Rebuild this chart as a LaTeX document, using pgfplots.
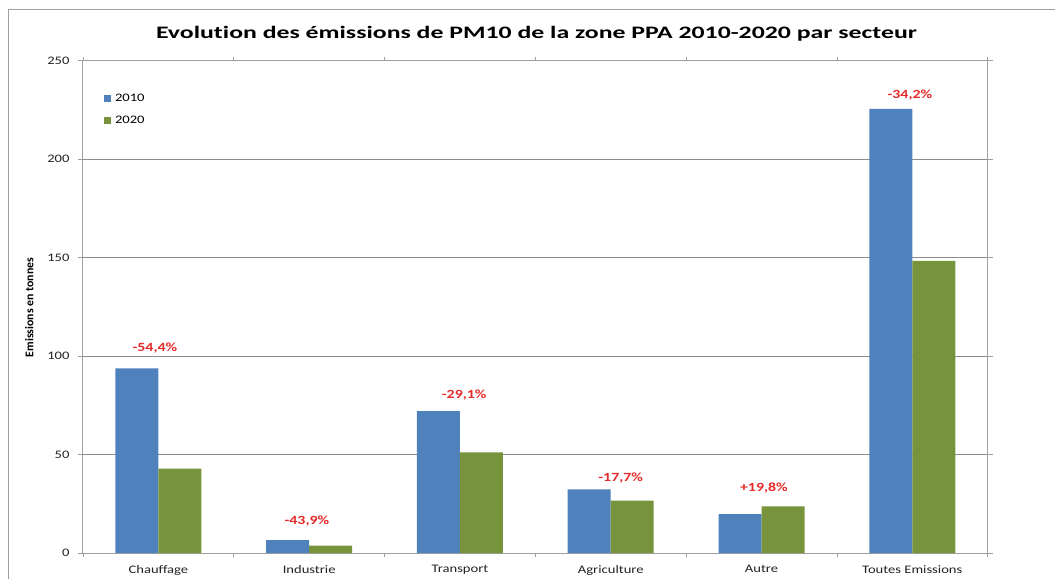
\documentclass[border=0pt]{standalone}
\usepackage{pgfplots}
\pgfplotsset{compat=1.18}
\usepackage{fontspec}
\setmainfont{Carlito}[FakeStretch=1.27, Ligatures={NoCommon}]
\newfontfamily\ylabfont{Carlito}[Ligatures={NoCommon}]
\definecolor{cblue}{HTML}{4F81BD}
\definecolor{cgreen}{HTML}{77933C}
\definecolor{cred}{HTML}{E52A2A}
\definecolor{cgrid}{HTML}{8C8C8C}
\definecolor{caxis}{HTML}{A0A0A0}
\definecolor{ctxt}{HTML}{222222}
\begin{document}
\begin{tikzpicture}
\path[use as bounding box] (0,0) rectangle (1055pt,579pt);
\draw[caxis, line width=1pt] (8pt,0pt) -- (8pt,569pt) -- (1055pt,569pt);
\node[anchor=base, font=\bfseries\fontsize{17.5}{20}\selectfont, text=black] at (536.5pt,540.7pt) {\scalebox{1.16}[1]{Evolution des émissions de PM10 de la zone PPA 2010-2020 par secteur}};
\node[anchor=base, rotate=90, font=\ylabfont\bfseries\fontsize{11.8}{13}\selectfont, text=black] at (33.3pt,271.5pt) {Emissions en tonnes};
\begin{axis}[
  at={(83pt,26pt)}, anchor=south west,
  scale only axis, width=904.7pt, height=492.3pt,
  ybar=0pt, bar width=43pt,
  xmin=-0.5, xmax=5.5, ymin=0, ymax=250,
  xtick={0,1,2,3,4,5},
  xticklabels={Chauffage,Industrie,Transport,Agriculture,Autre,Toutes Emissions},
  minor xtick={-0.5,0.5,1.5,2.5,3.5,4.5,5.5},
  ytick={0,50,100,150,200,250},
  ymajorgrids, major grid style={cgrid, line width=0.8pt},
  axis line style={caxis, line width=1pt},
  tick align=outside,
  major x tick style={draw=none},
  major y tick style={caxis, line width=0.8pt},
  minor x tick style={caxis, line width=0.8pt},
  major tick length=5pt, minor tick length=4pt,
  tick label style={font=\fontsize{11.5}{13}\selectfont, text=ctxt},
  /pgf/number format/assume math mode=true,
  xticklabel style={yshift=-4pt},
  yticklabel style={xshift=-5pt},
  legend style={draw=none, fill=none, at={(0.023,0.934)}, anchor=north west,
    font=\fontsize{11.5}{13}\selectfont, row sep=10.6pt, column sep=3pt, inner sep=0pt,
    nodes={inner sep=1pt}},
  legend cell align=left,
  clip=false,
]
\addplot[fill=cblue, draw=none, legend image code/.code={\fill[cblue] (0pt,-3.4pt) rectangle (7pt,3.4pt);}]
  coordinates {(0,93.8) (1,6.6) (2,72.1) (3,32.3) (4,19.8) (5,225.5)};
\addlegendentry{2010}
\addplot[fill=cgreen, draw=none, legend image code/.code={\fill[cgreen] (0pt,-3.4pt) rectangle (7pt,3.4pt);}]
  coordinates {(0,42.8) (1,3.7) (2,51.1) (3,26.6) (4,23.7) (5,148.3)};
\addlegendentry{2020}
\begin{scope}[every node/.style={anchor=base, text=cred, font=\bfseries\fontsize{12.5}{14}\selectfont}]
\node at (axis cs:-0.023,102.1) {-54,4\%};
\node at (axis cs:0.985,14.7) {-43,9\%};
\node at (axis cs:2.028,78.7) {-29,1\%};
\node at (axis cs:3.066,36.1) {-17,7\%};
\node at (axis cs:4.016,31.0) {+19,8\%};
\node at (axis cs:4.984,230.6) {-34,2\%};
\end{scope}
\end{axis}
\end{tikzpicture}
\end{document}
